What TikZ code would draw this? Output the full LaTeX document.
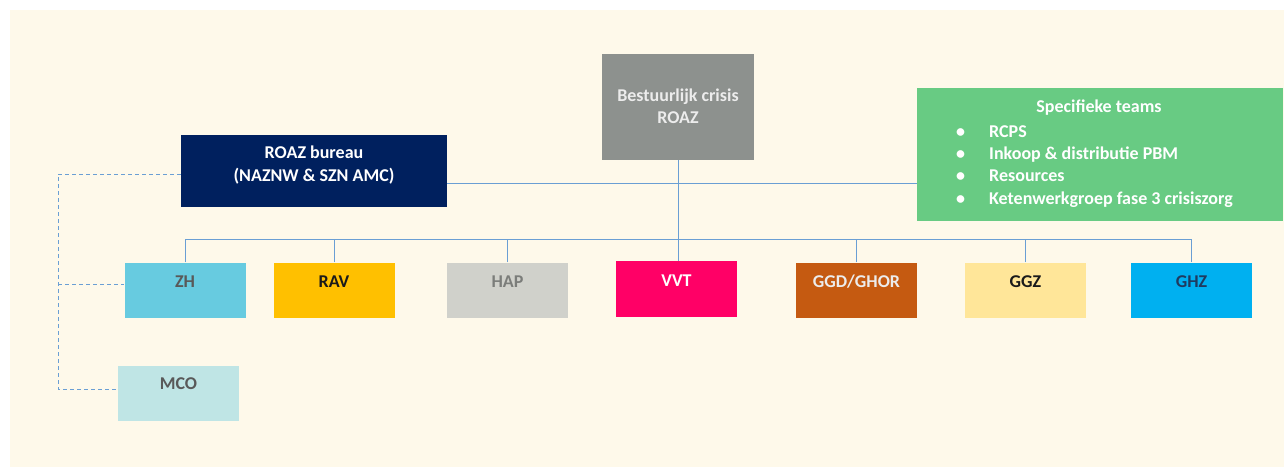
\documentclass[tikz,border=0pt]{standalone}
\usepackage{fontspec}
\setmainfont{Carlito}
\definecolor{bg}{HTML}{FEF9EA}
\definecolor{lineblue}{HTML}{6A9FD4}
\definecolor{bestgray}{HTML}{8D918E}
\definecolor{navy}{HTML}{00205E}
\definecolor{teamgreen}{HTML}{68CB83}
\definecolor{zhblue}{HTML}{67CBE0}
\definecolor{ravyellow}{HTML}{FFC000}
\definecolor{hapgray}{HTML}{D0D1CB}
\definecolor{vvtpink}{HTML}{FF0066}
\definecolor{ggdbrown}{HTML}{C55A11}
\definecolor{ggzcream}{HTML}{FFE699}
\definecolor{ghzblue}{HTML}{00B0F0}
\definecolor{mcoteal}{HTML}{BFE5E5}
\definecolor{darkgraytxt}{HTML}{595959}
\definecolor{midgraytxt}{HTML}{7B7D7A}
\definecolor{nearblack}{HTML}{1A1A1A}
\definecolor{ghztxt}{HTML}{1F3A5F}
\definecolor{lighttxt}{HTML}{ECECEC}
\begin{document}
\begin{tikzpicture}[x=1pt,y=-1pt,
  box/.style={draw=none, inner sep=0pt, minimum width=121pt, minimum height=55pt},
  lbl/.style={font=\fontsize{18}{22}\selectfont\bfseries, inner sep=0pt, anchor=base},
  llbl/.style={lbl, anchor=base west},
  conn/.style={draw=lineblue, line width=1pt},
  dashconn/.style={conn, dash pattern=on 4pt off 3pt}]
\useasboundingbox (0,0) rectangle (1284,467);
\fill[white] (0,0) rectangle (1284,467);
\fill[bg] (10,10) rectangle (1284,467);

% top level boxes
\node[box, fill=bestgray, minimum width=152pt, minimum height=106pt] (best) at (678,107) {};
\node[box, fill=navy, minimum width=266pt, minimum height=72pt] (roaz) at (314,171) {};
\node[box, fill=teamgreen, minimum width=366pt, minimum height=133pt] (spec) at (1100,154.5) {};

% row boxes
\node[box, fill=zhblue] (zh) at (185,290) {};
\node[box, fill=ravyellow] (rav) at (334,290) {};
\node[box, fill=hapgray] (hap) at (507.5,290) {};
\node[box, fill=vvtpink, minimum height=56pt] (vvt) at (676.5,289) {};
\node[box, fill=ggdbrown] (ggd) at (856.5,290) {};
\node[box, fill=ggzcream] (ggz) at (1025.5,290) {};
\node[box, fill=ghzblue] (ghz) at (1191.5,290) {};
\node[box, fill=mcoteal] (mco) at (178.5,393.5) {};

% texts
\node[lbl, text=lighttxt] (best-t1) at (678,101) {Bestuurlijk crisis};
\node[lbl, text=lighttxt] (best-t2) at (678,123) {ROAZ};
\node[lbl, text=white] (roaz-t1) at (314,158.5) {ROAZ bureau};
\node[lbl, text=white] (roaz-t2) at (314,181) {(NAZNW \& SZN AMC)};
\node[lbl, text=white] (spec-t) at (1099,112.5) {Specifieke teams};
\node[llbl, text=white] (spec-b1) at (956,137.5) {\makebox[33pt][l]{•}RCPS};
\node[llbl, text=white] (spec-b2) at (956,159) {\makebox[33pt][l]{•}Inkoop \& distributie PBM};
\node[llbl, text=white] (spec-b3) at (956,181) {\makebox[33pt][l]{•}Resources};
\node[llbl, text=white] (spec-b4) at (956,204) {\makebox[33pt][l]{•}Ketenwerkgroep fase 3 crisiszorg};

\node[lbl, text=darkgraytxt] (zh-t) at (185,287) {ZH};
\node[lbl, text=nearblack] (rav-t) at (334,287) {RAV};
\node[lbl, text=midgraytxt] (hap-t) at (507.5,287) {HAP};
\node[lbl, text=white] (vvt-t) at (676.5,286) {VVT};
\node[lbl, text=lighttxt] (ggd-t) at (856.5,287) {GGD/GHOR};
\node[lbl, text=nearblack] (ggz-t) at (1025.5,287) {GGZ};
\node[lbl, text=ghztxt] (ghz-t) at (1191.5,287) {GHZ};
\node[lbl, text=darkgraytxt] (mco-t) at (178.5,389) {MCO};

% connectors
\draw[conn] (best.south) -- (best.south |- vvt.north);
\coordinate (rl) at ([yshift=-12pt]roaz.east);
\draw[conn] (rl) -- (rl -| spec.west);
\coordinate (bus) at (0,239);
\draw[conn] (zh.north |- bus) -- (ghz.north |- bus);
\foreach \n in {zh,rav,hap,ggd,ggz,ghz}
  \draw[conn] (\n.north) -- (\n.north |- bus);

\coordinate (dx) at (58,0);
\coordinate (r0) at ([yshift=-3pt]roaz.west);
\coordinate (m0) at ([yshift=4.5pt]mco.west);
\coordinate (z0) at ([yshift=6pt]zh.west);
\draw[dashconn] (r0) -- (r0 -| dx) |- (m0);
\draw[dashconn] (z0 -| dx) -- (z0);
\end{tikzpicture}
\end{document}
